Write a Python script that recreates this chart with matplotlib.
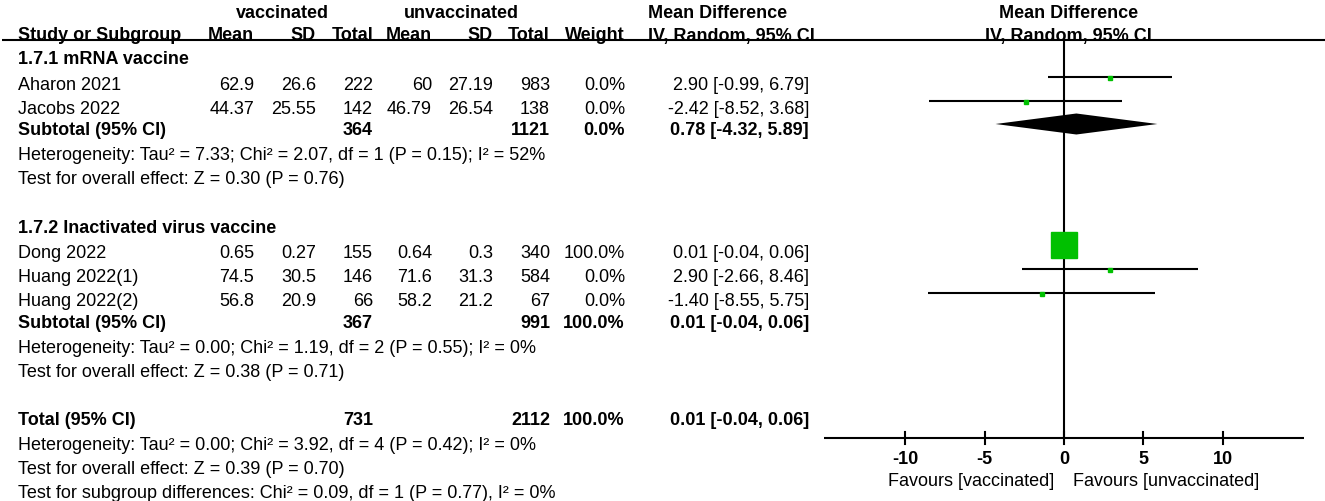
import matplotlib.pyplot as plt

# study level data
studies = ['Aharon 2021', 'Jacobs 2022', 'Dong 2022', 'Huang 2022(1)', 'Huang 2022(2)']
vac_mean = ['62.9', '44.37', '0.65', '74.5', '56.8']
vac_sd = ['26.6', '25.55', '0.27', '30.5', '20.9']
vac_n = [222, 142, 155, 146, 66]
unvac_mean = ['60', '46.79', '0.64', '71.6', '58.2']
unvac_sd = ['27.19', '26.54', '0.3', '31.3', '21.2']
unvac_n = [983, 138, 340, 584, 67]
weights = [0.0, 0.0, 100.0, 0.0, 0.0]
md = [2.90, -2.42, 0.01, 2.90, -1.40]
md_lo = [-0.99, -8.52, -0.04, -2.66, -8.55]
md_hi = [6.79, 3.68, 0.06, 8.46, 5.75]

# subgroup / total pooled results
groups = ['1.7.1 mRNA vaccine', '1.7.2 Inactivated virus vaccine']
sub_vac_n = [364, 367]
sub_unvac_n = [1121, 991]
sub_weight = [0.0, 100.0]
sub_md = [0.78, 0.01]
sub_lo = [-4.32, -0.04]
sub_hi = [5.89, 0.06]
tot_vac_n, tot_unvac_n, tot_weight = 731, 2112, 100.0
tot_md, tot_lo, tot_hi = 0.01, -0.04, 0.06

het_lines = [
    ['Heterogeneity: Tau² = 7.33; Chi² = 2.07, df = 1 (P = 0.15); I² = 52%',
     'Test for overall effect: Z = 0.30 (P = 0.76)'],
    ['Heterogeneity: Tau² = 0.00; Chi² = 1.19, df = 2 (P = 0.55); I² = 0%',
     'Test for overall effect: Z = 0.38 (P = 0.71)'],
]
tot_lines = ['Heterogeneity: Tau² = 0.00; Chi² = 3.92, df = 4 (P = 0.42); I² = 0%',
             'Test for overall effect: Z = 0.39 (P = 0.70)',
             'Test for subgroup differences: Chi² = 0.09, df = 1 (P = 0.77), I² = 0%']
ticks = [-10, -5, 0, 5, 10]
left_label = 'Favours [vaccinated]'
right_label = 'Favours [unvaccinated]'

plt.rcParams['font.family'] = ['Liberation Sans', 'DejaVu Sans']
FS = 13
GREEN = '#00c000'
BL = 6.5  # text row centre -> baseline

W, H = 1325, 502
fig = plt.figure(figsize=(W / 100, H / 100), dpi=100)
ax = fig.add_axes([0, 0, 1, 1])
ax.set_xlim(0, W)
ax.set_ylim(H, 0)
ax.axis('off')

# forest panel, shares the pixel rows of the table
fx0, fx1 = 824, 1304
fax = fig.add_axes([fx0 / W, 0, (fx1 - fx0) / W, 1])
XL = 15.14
fax.set_xlim(-XL, XL)
fax.set_ylim(H, 0)
fax.axis('off')

# column right edges (pixels)
c_name = 18
c_vm, c_vsd, c_vn = 254, 316, 373
c_um, c_usd, c_un = 432, 493, 550
c_w, c_ci, c_md_left = 625, 809, 648


def txt(x, y, s, ha='right', bold=False, a=None):
    (a or ax).text(x, y + BL, s, ha=ha, va='baseline', fontsize=FS,
                   fontweight='bold' if bold else 'normal')


# headers
txt(282, 11, 'vaccinated', ha='center', bold=True)
txt(461, 11, 'unvaccinated', ha='center', bold=True)
txt(c_md_left, 11, 'Mean Difference', ha='left', bold=True)
txt(c_name, 34, 'Study or Subgroup', ha='left', bold=True)
for x, s in [(c_vm, 'Mean'), (c_vsd, 'SD'), (c_vn, 'Total'), (c_um, 'Mean'),
             (c_usd, 'SD'), (c_un, 'Total'), (c_w, 'Weight')]:
    txt(x, 34, s, bold=True)
txt(c_md_left, 34, 'IV, Random, 95% CI', ha='left', bold=True)
txt(0.3, 11, 'Mean Difference', ha='center', bold=True, a=fax)
txt(0.3, 34, 'IV, Random, 95% CI', ha='center', bold=True, a=fax)
ax.plot([2, W], [41, 41], color='black', lw=1.5, solid_capstyle='butt')

# row layout (pixel y of text rows)
group_rows = [
    dict(title=58, studies=[0, 1], rows=[84, 108], sub=129, het=[154, 178]),
    dict(title=227, studies=[2, 3, 4], rows=[252, 276, 300], sub=322, het=[347, 371]),
]
PLOT_OFF = -6
DH = 10.5


def diamond(m, lo, hi, y):
    fax.fill([lo, m, hi, m], [y, y - DH, y, y + DH], color='black', lw=0)


for g, gr in enumerate(group_rows):
    txt(c_name, gr['title'], groups[g], ha='left', bold=True)
    for i, y in zip(gr['studies'], gr['rows']):
        txt(c_name, y, studies[i], ha='left')
        txt(c_vm, y, vac_mean[i])
        txt(c_vsd, y, vac_sd[i])
        txt(c_vn, y, str(vac_n[i]))
        txt(c_um, y, unvac_mean[i])
        txt(c_usd, y, unvac_sd[i])
        txt(c_un, y, str(unvac_n[i]))
        txt(c_w, y, f'{weights[i]:.1f}%')
        txt(c_ci, y, f'{md[i]:.2f} [{md_lo[i]:.2f}, {md_hi[i]:.2f}]')
        py = y + PLOT_OFF
        fax.plot([md_lo[i], md_hi[i]], [py, py], color='black', lw=1.5, solid_capstyle='butt')
        ms = 2.2 + 17.2 * weights[i] / 100
        fax.plot(md[i], py + (0 if weights[i] > 50 else 1), marker='s', ms=ms,
                 color=GREEN, mec=GREEN, ls='none', zorder=3)
    y = gr['sub']
    txt(c_name, y, 'Subtotal (95% CI)', ha='left', bold=True)
    txt(c_vn, y, str(sub_vac_n[g]), bold=True)
    txt(c_un, y, str(sub_unvac_n[g]), bold=True)
    txt(c_w, y, f'{sub_weight[g]:.1f}%', bold=True)
    txt(c_ci, y, f'{sub_md[g]:.2f} [{sub_lo[g]:.2f}, {sub_hi[g]:.2f}]', bold=True)
    diamond(sub_md[g], sub_lo[g], sub_hi[g], y + PLOT_OFF + 2)
    for s, yy in zip(het_lines[g], gr['het']):
        txt(c_name, yy, s, ha='left')

# overall
y = 419
txt(c_name, y, 'Total (95% CI)', ha='left', bold=True)
txt(c_vn, y, str(tot_vac_n), bold=True)
txt(c_un, y, str(tot_unvac_n), bold=True)
txt(c_w, y, f'{tot_weight:.1f}%', bold=True)
txt(c_ci, y, f'{tot_md:.2f} [{tot_lo:.2f}, {tot_hi:.2f}]', bold=True)
diamond(tot_md, tot_lo, tot_hi, y + PLOT_OFF)
for s, yy in zip(tot_lines, [444, 468, 492]):
    txt(c_name, yy, s, ha='left')

# axis of the forest panel
AY = 439
fax.plot([0, 0], [41, AY], color='black', lw=1.5)
fax.plot([-XL, XL], [AY, AY], color='black', lw=1.5)
for t in ticks:
    fax.plot([t, t], [AY - 6, AY + 6], color='black', lw=1.5)
    txt(t, 458, str(t), ha='center', bold=True, a=fax)
txt(-0.63, 480, left_label, ha='right', a=fax)
txt(0.57, 480, right_label, ha='left', a=fax)

fig.savefig('out.png', dpi=100)
